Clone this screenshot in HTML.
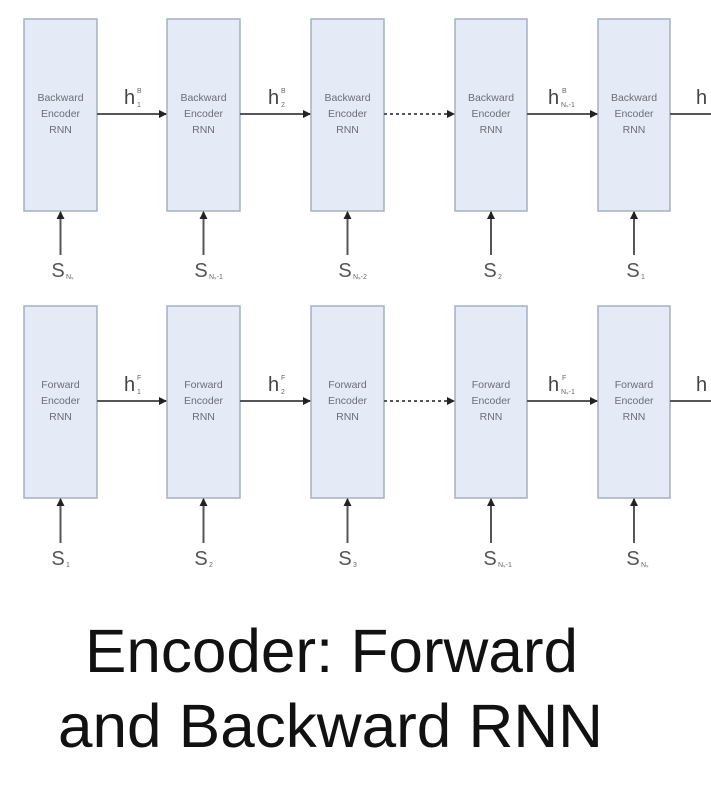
<!DOCTYPE html>
<html><head><meta charset="utf-8"><style>
html,body{margin:0;padding:0;background:#fff;}
svg{display:block;}
</style></head><body>
<svg width="711" height="805" viewBox="0 0 711 805" xmlns="http://www.w3.org/2000/svg" font-family="Liberation Sans, sans-serif">
<defs>
<marker id="a" markerWidth="8" markerHeight="8" refX="7" refY="4" orient="auto" markerUnits="userSpaceOnUse">
<path d="M0,0 L8,4 L0,8 z" fill="#222"/></marker>
</defs>
<g fill="#e4ebf6" stroke="#a3b0c4" stroke-width="1.5">
<rect x="24" y="19" width="73" height="192"/>
<rect x="167" y="19" width="73" height="192"/>
<rect x="311" y="19" width="73" height="192"/>
<rect x="455" y="19" width="72" height="192"/>
<rect x="598" y="19" width="72" height="192"/>
<rect x="24" y="306" width="73" height="192"/>
<rect x="167" y="306" width="73" height="192"/>
<rect x="311" y="306" width="73" height="192"/>
<rect x="455" y="306" width="72" height="192"/>
<rect x="598" y="306" width="72" height="192"/>
</g>
<g font-size="10.5" fill="#6a6f78" text-anchor="middle">
<text x="60.5" y="101">Backward</text><text x="60.5" y="117">Encoder</text><text x="60.5" y="133">RNN</text>
<text x="203.5" y="101">Backward</text><text x="203.5" y="117">Encoder</text><text x="203.5" y="133">RNN</text>
<text x="347.5" y="101">Backward</text><text x="347.5" y="117">Encoder</text><text x="347.5" y="133">RNN</text>
<text x="491" y="101">Backward</text><text x="491" y="117">Encoder</text><text x="491" y="133">RNN</text>
<text x="634" y="101">Backward</text><text x="634" y="117">Encoder</text><text x="634" y="133">RNN</text>
<text x="60.5" y="388">Forward</text><text x="60.5" y="404">Encoder</text><text x="60.5" y="420">RNN</text>
<text x="203.5" y="388">Forward</text><text x="203.5" y="404">Encoder</text><text x="203.5" y="420">RNN</text>
<text x="347.5" y="388">Forward</text><text x="347.5" y="404">Encoder</text><text x="347.5" y="420">RNN</text>
<text x="491" y="388">Forward</text><text x="491" y="404">Encoder</text><text x="491" y="420">RNN</text>
<text x="634" y="388">Forward</text><text x="634" y="404">Encoder</text><text x="634" y="420">RNN</text>
</g>
<g stroke="#555" stroke-width="2" fill="none">
<line x1="97" y1="114" x2="166" y2="114" marker-end="url(#a)"/>
<line x1="240" y1="114" x2="310" y2="114" marker-end="url(#a)"/>
<line x1="384" y1="114" x2="454" y2="114" stroke-dasharray="3,3" marker-end="url(#a)"/>
<line x1="527" y1="114" x2="597" y2="114" marker-end="url(#a)"/>
<line x1="670" y1="114" x2="711" y2="114"/>
<line x1="97" y1="401" x2="166" y2="401" marker-end="url(#a)"/>
<line x1="240" y1="401" x2="310" y2="401" marker-end="url(#a)"/>
<line x1="384" y1="401" x2="454" y2="401" stroke-dasharray="3,3" marker-end="url(#a)"/>
<line x1="527" y1="401" x2="597" y2="401" marker-end="url(#a)"/>
<line x1="670" y1="401" x2="711" y2="401"/>
<line x1="60.5" y1="255" x2="60.5" y2="212" marker-end="url(#a)"/>
<line x1="203.5" y1="255" x2="203.5" y2="212" marker-end="url(#a)"/>
<line x1="347.5" y1="255" x2="347.5" y2="212" marker-end="url(#a)"/>
<line x1="491" y1="255" x2="491" y2="212" marker-end="url(#a)"/>
<line x1="634" y1="255" x2="634" y2="212" marker-end="url(#a)"/>
<line x1="60.5" y1="543" x2="60.5" y2="499" marker-end="url(#a)"/>
<line x1="203.5" y1="543" x2="203.5" y2="499" marker-end="url(#a)"/>
<line x1="347.5" y1="543" x2="347.5" y2="499" marker-end="url(#a)"/>
<line x1="491" y1="543" x2="491" y2="499" marker-end="url(#a)"/>
<line x1="634" y1="543" x2="634" y2="499" marker-end="url(#a)"/>
</g>
<g fill="#444" font-size="20">
<text x="124" y="104">h</text><text x="268" y="104">h</text><text x="548" y="104">h</text><text x="696" y="104">h</text>
<text x="124" y="391">h</text><text x="268" y="391">h</text><text x="548" y="391">h</text><text x="696" y="391">h</text>
</g>
<g fill="#666" font-size="7">
<text x="137" y="93">B</text><text x="137" y="107">1</text>
<text x="281" y="93">B</text><text x="281" y="107">2</text>
<text x="562" y="93">B</text><text x="561" y="107">Nₛ-1</text>
<text x="137" y="380">F</text><text x="137" y="394">1</text>
<text x="281" y="380">F</text><text x="281" y="394">2</text>
<text x="562" y="380">F</text><text x="561" y="394">Nₛ-1</text>
</g>
<g fill="#555" font-size="20" text-anchor="middle">
<text x="58" y="277">S</text><text x="201" y="277">S</text><text x="345" y="277">S</text><text x="490" y="277">S</text><text x="633" y="277">S</text>
<text x="58" y="565">S</text><text x="201" y="565">S</text><text x="345" y="565">S</text><text x="490" y="565">S</text><text x="633" y="565">S</text>
</g>
<g fill="#666" font-size="7">
<text x="66" y="279">Nₛ</text><text x="209" y="279">Nₛ-1</text><text x="353" y="279">Nₛ-2</text><text x="498" y="279">2</text><text x="641" y="279">1</text>
<text x="66" y="567">1</text><text x="209" y="567">2</text><text x="353" y="567">3</text><text x="498" y="567">Nₛ-1</text><text x="641" y="567">Nₛ</text>
</g>
<g fill="#111" font-size="61">
<text x="85" y="672" textLength="493" lengthAdjust="spacingAndGlyphs">Encoder: Forward</text>
<text x="58" y="747" textLength="545" lengthAdjust="spacingAndGlyphs">and Backward RNN</text>
</g>
</svg>
</body></html>
